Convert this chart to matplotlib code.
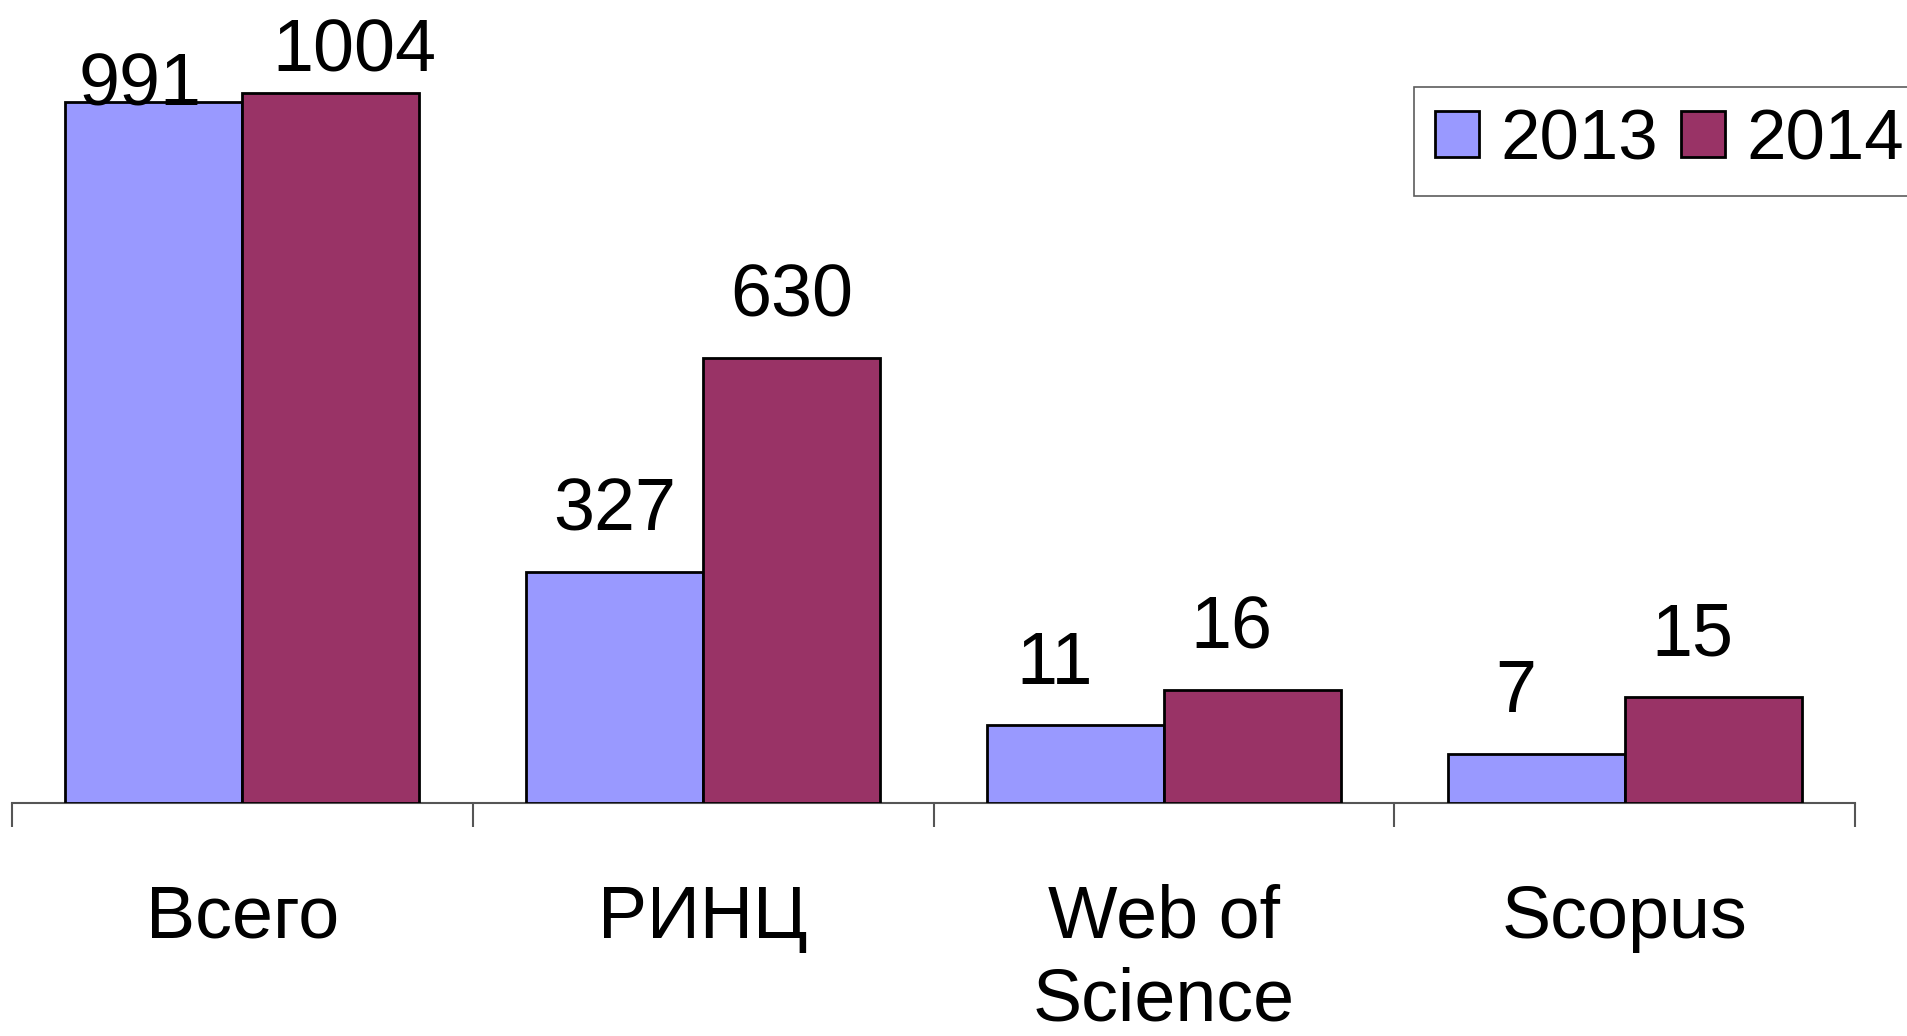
import numpy as np
import matplotlib
matplotlib.use("Agg")
import matplotlib.pyplot as plt

plt.rcParams["font.family"] = ["Liberation Sans", "DejaVu Sans"]

# -----------------------------
# Data
# -----------------------------
categories = ["Всего", "РИНЦ", "Web of\nScience", "Scopus"]
years = ["2013", "2014"]
values_2013 = [991, 327, 11, 7]
values_2014 = [1004, 630, 16, 15]
# the original chart draws the two small groups 10x taller than their value
draw_scale = [1, 1, 10, 10]

colors = ["#9999FF", "#993366"]

# -----------------------------
# Figure
# -----------------------------
fig = plt.figure(figsize=(19.07, 10.36), dpi=100)
ax = fig.add_axes([12 / 1907, 1 - 803 / 1036, 1843 / 1907, 803 / 1036])

x = np.arange(len(categories))
w = 0.384
scale = np.array(draw_scale)
h13 = np.array(values_2013) * scale
h14 = np.array(values_2014) * scale

b13 = ax.bar(x - w / 2, h13, w, color=colors[0], edgecolor="black", linewidth=2, label=years[0], zorder=3)
b14 = ax.bar(x + w / 2, h14, w, color=colors[1], edgecolor="black", linewidth=2, label=years[1], zorder=3)

ax.set_xlim(-0.5, len(categories) - 0.5)
ax.set_ylim(0, 1136)

# value labels (label shifts copied from the original layout)
shift_x = [0.0, 0.0, -0.045, -0.045]
for i in range(len(categories)):
    for bars, vals in ((b13, values_2013), (b14, values_2014)):
        bar = bars[i]
        dx = shift_x[i]
        off = 19
        if i == 0:
            off = -13 if bars is b13 else 5
            dx = -0.03 if bars is b13 else 0.05
        ax.annotate(str(vals[i]), (bar.get_x() + bar.get_width() / 2 + dx, bar.get_height()),
                    xytext=(0, off), textcoords="offset points",
                    ha="center", va="bottom", fontsize=53, clip_on=False)

# axes styling
for s in ["top", "right", "left"]:
    ax.spines[s].set_visible(False)
ax.spines["bottom"].set_color("#555555")
ax.spines["bottom"].set_linewidth(1.5)
ax.set_yticks([])
ax.set_xticks(x)
ax.set_xticklabels(categories, fontsize=53, linespacing=1.25)
ax.tick_params(axis="x", which="major", length=0, pad=58)
ax.set_xticks(np.arange(-0.5, len(categories)), minor=True)
ax.tick_params(axis="x", which="minor", length=17, width=1.5, color="#555555", direction="out")

leg = ax.legend(loc="upper left", bbox_to_anchor=(1414 / 1907, 1 - 87 / 1036),
                bbox_transform=fig.transFigure, ncol=2, fontsize=51, frameon=True,
                fancybox=False, handlelength=0.62, handleheight=0.62,
                handletextpad=0.3, columnspacing=0.32, borderpad=0.3, borderaxespad=0)
leg.get_frame().set_edgecolor("#333333")
leg.get_frame().set_linewidth(1.2)
for p in leg.get_patches():
    p.set_linewidth(2)

fig.savefig("out.png", dpi=100)
